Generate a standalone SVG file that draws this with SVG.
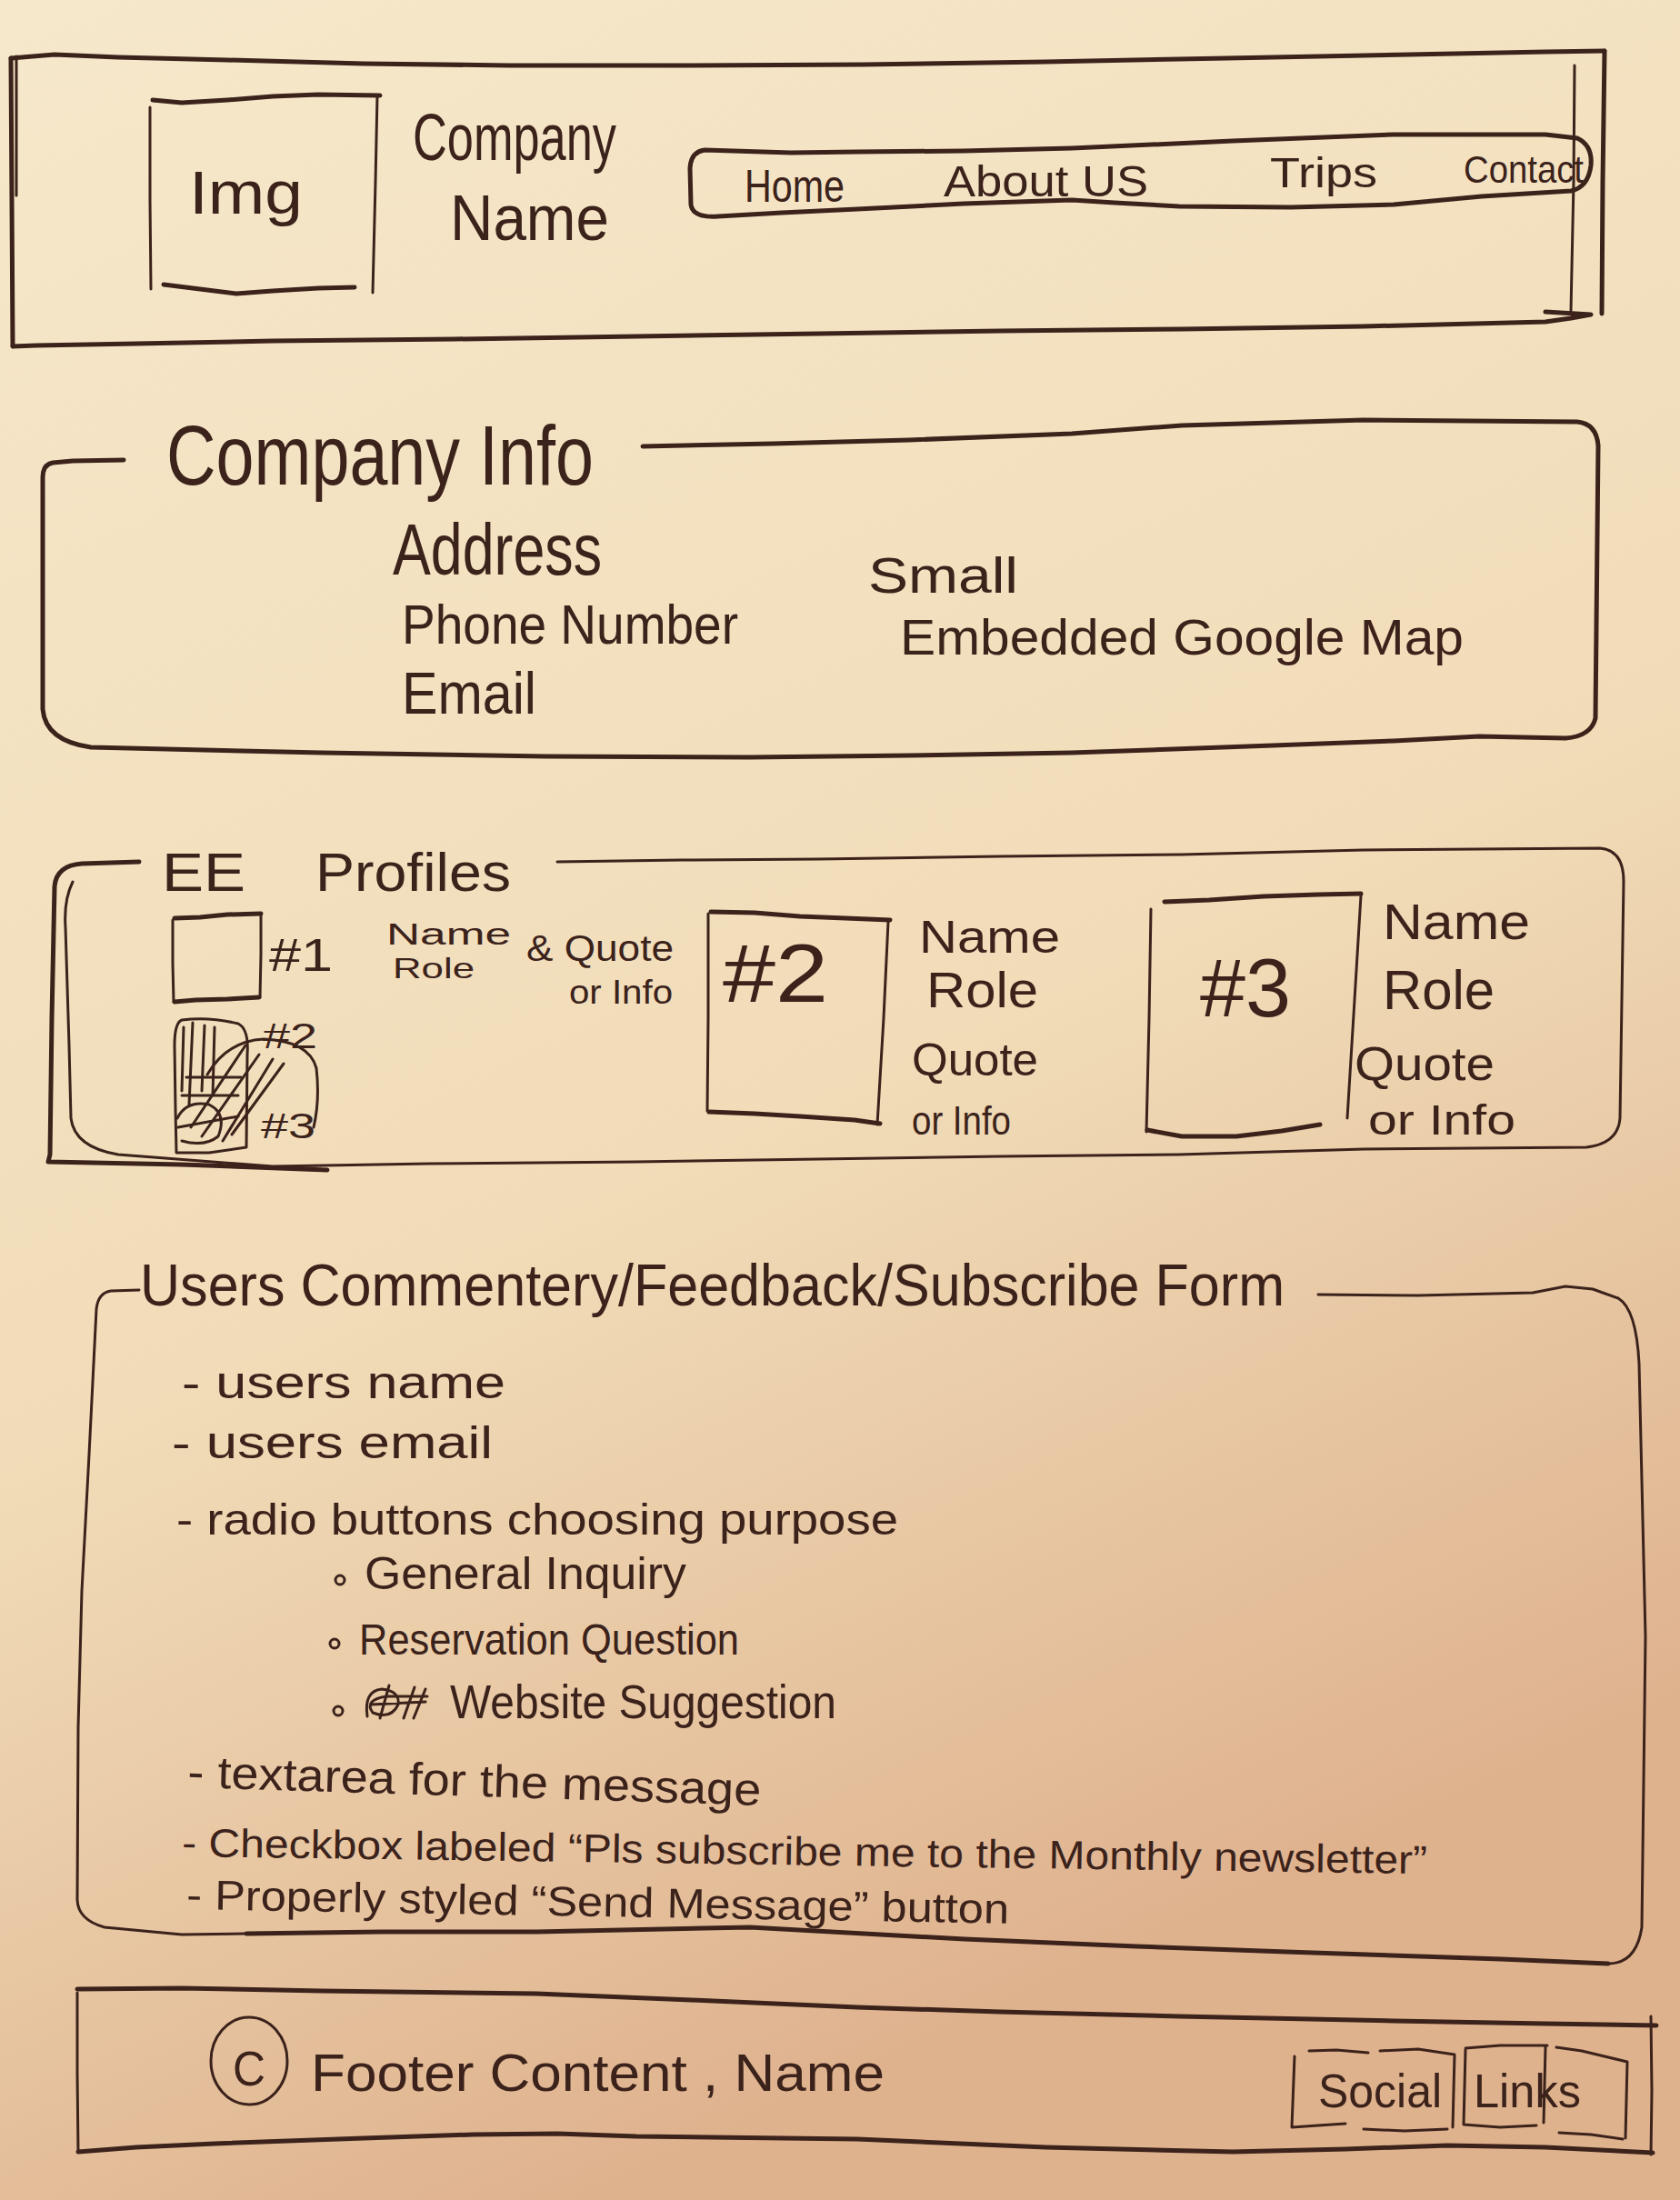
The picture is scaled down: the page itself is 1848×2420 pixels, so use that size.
<svg xmlns="http://www.w3.org/2000/svg" width="1848" height="2420" viewBox="0 0 1848 2420">
  <defs>
    <linearGradient id="paper" x1="0" y1="0" x2="0.35" y2="1">
      <stop offset="0" stop-color="#f6e8cb"/>
      <stop offset="0.6" stop-color="#f1dcb8"/>
      <stop offset="1" stop-color="#dfb28e"/>
    </linearGradient>
    <style>
      .ink { fill: none; stroke: #3b221b; stroke-width: 5; stroke-linecap: round; stroke-linejoin: round; }
      .thin { fill: none; stroke: #3b221b; stroke-width: 3; stroke-linecap: round; stroke-linejoin: round; }
      .t { font-family: "Liberation Sans Narrow", "Liberation Sans", Arial, sans-serif; fill: #3b221b; }
      .dot { fill: none; stroke: #3b221b; stroke-width: 3; }
    </style>
  </defs>

  <!-- paper -->
  <rect x="0" y="0" width="1848" height="2420" fill="url(#paper)"/>

  <!-- header bar -->
  <g id="header">
    <path class="ink" d="M12,64 L60,60 L130,63 L250,66 L400,70 L560,72 L760,72 L950,71 L1150,68 L1350,64 L1550,60 L1700,57 L1765,56"/>
    <path class="ink" d="M1765,56 L1763,200 L1762,345"/>
    <path class="thin" d="M1732,72 L1731,200 L1728,342"/>
    <path class="ink" d="M1700,343 L1750,346 L1728,350 L1700,354 L1500,359 L1300,362 L1100,364 L900,367 L700,370 L500,373 L300,375 L150,378 L40,380 L14,381"/>
    <path class="ink" d="M12,64 L13,220 L14,381"/>
    <path class="thin" d="M18,62 L18,215"/>
  </g>

  <g id="logo-img">
    <path class="ink" d="M168,110 L200,113 L250,110 L300,106 L350,104 L418,105"/>
    <path class="thin" d="M415,105 L413,200 L410,322"/>
    <path class="thin" d="M165,118 L165,220 L166,318"/>
    <path class="ink" d="M180,313 L220,318 L260,323 L300,320 L350,317 L390,316"/>
    <text class="t" x="208" y="235" font-size="66" textLength="125" lengthAdjust="spacingAndGlyphs">Img</text>
  </g>

  <g id="company-name">
    <text class="t" x="454" y="176" font-size="72" textLength="224" lengthAdjust="spacingAndGlyphs">Company</text>
    <text class="t" x="495" y="264" font-size="70" textLength="175" lengthAdjust="spacingAndGlyphs">Name</text>
  </g>

  <g id="nav">
    <path class="ink" d="M775,165 L870,168 L943,167 L1060,166 L1179,163 L1356,155 L1533,148 L1700,148 L1735,152 Q1752,160 1750,182 Q1747,206 1728,210 L1630,216 L1533,225 L1420,228 L1297,227 L1226,223 L1179,220 L1060,224 L943,230 L860,234 L790,238 Q762,240 760,225 L759,185 Q760,167 775,165 Z"/>
    <text class="t" x="819" y="222" font-size="50" textLength="110" lengthAdjust="spacingAndGlyphs">Home</text>
    <text class="t" x="1038" y="216" font-size="48" textLength="225" lengthAdjust="spacingAndGlyphs">About US</text>
    <text class="t" x="1397" y="206" font-size="46" textLength="118" lengthAdjust="spacingAndGlyphs">Trips</text>
    <text class="t" x="1610" y="201" font-size="42" textLength="132" lengthAdjust="spacingAndGlyphs">Contact</text>
  </g>

  <!-- company info panel -->
  <g id="company-info">
    <path class="ink" d="M136,506 L80,507 L58,509 Q47,511 47,525 L47,780 Q50,815 100,822 L354,828 L600,832 L825,833 L1000,831 L1179,828 L1400,820 L1533,815 L1627,810 L1722,812 Q1750,810 1755,790 L1758,490 Q1756,466 1735,464 L1500,462 L1300,468 L1179,477 L1000,484 L850,488 L707,491"/>
    <text class="t" x="183" y="533" font-size="92" textLength="470" lengthAdjust="spacingAndGlyphs">Company Info</text>
    <text class="t" x="432" y="632" font-size="80" textLength="230" lengthAdjust="spacingAndGlyphs">Address</text>
    <text class="t" x="442" y="708" font-size="62" textLength="370" lengthAdjust="spacingAndGlyphs">Phone Number</text>
    <text class="t" x="442" y="785" font-size="64" textLength="148" lengthAdjust="spacingAndGlyphs">Email</text>
    <text class="t" x="955" y="652" font-size="56" textLength="165" lengthAdjust="spacingAndGlyphs">Small</text>
    <text class="t" x="990" y="720" font-size="56" textLength="620" lengthAdjust="spacingAndGlyphs">Embedded Google Map</text>
  </g>

  <!-- employee profiles panel -->
  <g id="ee-profiles">
    <path class="ink" d="M153,948 L90,950 Q62,952 60,975 L57,1120 L55,1270 L53,1278 L200,1281 L360,1287"/>
    <path class="thin" d="M80,970 Q70,990 72,1020 L76,1150 L78,1230 Q82,1262 130,1270 L300,1283 L472,1280 L700,1278 L900,1275 L1100,1272 L1297,1270 L1500,1264 L1745,1262 Q1780,1258 1782,1230 L1786,970 Q1786,935 1760,933 L1500,935 L1300,940 L1100,942 L900,945 L750,946 L613,948"/>
    <text class="t" font-size="60"><tspan x="178" y="980" textLength="92" lengthAdjust="spacingAndGlyphs">EE</tspan> <tspan x="347" y="980" textLength="215" lengthAdjust="spacingAndGlyphs">Profiles</tspan></text>
  </g>

  <g id="profile-1">
    <path class="ink" d="M192,1010 L220,1009 L250,1006 L287,1005"/>
    <path class="thin" d="M287,1005 L287,1050 L286,1097"/>
    <path class="thin" d="M190,1012 L190,1060 L191,1102"/>
    <path class="ink" d="M192,1102 L215,1100 L250,1099 L285,1097"/>
    <text class="t" x="296" y="1068" font-size="50" textLength="70" lengthAdjust="spacingAndGlyphs">#1</text>
    <text class="t" x="425" y="1039" font-size="34" textLength="137" lengthAdjust="spacingAndGlyphs">Name</text>
    <text class="t" x="432" y="1076" font-size="32" textLength="90" lengthAdjust="spacingAndGlyphs">Role</text>
    <text class="t" x="579" y="1057" font-size="40" textLength="162" lengthAdjust="spacingAndGlyphs">&amp; Quote</text>
    <text class="t" x="626" y="1104" font-size="36" textLength="114" lengthAdjust="spacingAndGlyphs">or Info</text>
  </g>

  <!-- crossed-out thumbnails -->
  <g id="profile-scribble">
    <path class="thin" d="M200,1122 Q230,1118 262,1126 Q274,1132 272,1160 L271,1262 L230,1268 L194,1268 L193,1220 L192,1150 Q192,1125 200,1122 Z"/>
    <path class="thin" d="M202,1130 L200,1200 M212,1125 L208,1215 M225,1128 L222,1200 M236,1130 L234,1205 M205,1185 L265,1185 M200,1205 L262,1205 M196,1240 L262,1228"/>
    <path class="thin" d="M210,1240 L270,1150 M222,1250 L285,1160 M245,1255 L300,1165 M255,1248 L312,1170 M195,1230 Q205,1210 230,1215 Q250,1225 240,1250 Q225,1262 200,1255"/>
    <path class="thin" d="M228,1182 Q250,1145 290,1143 Q340,1145 348,1175 Q352,1210 345,1240"/>
    <text class="t" x="289" y="1153" font-size="38" textLength="60" lengthAdjust="spacingAndGlyphs">#2</text>
    <text class="t" x="287" y="1252" font-size="38" textLength="60" lengthAdjust="spacingAndGlyphs">#3</text>
  </g>

  <g id="profile-2">
    <path class="ink" d="M782,1003 L830,1004 L880,1008 L930,1010 L979,1012"/>
    <path class="thin" d="M779,1005 L779,1120 L778,1222"/>
    <path class="thin" d="M977,1014 L972,1120 L965,1237"/>
    <path class="ink" d="M780,1223 L830,1225 L880,1228 L940,1232 L968,1236"/>
    <text class="t" x="795" y="1102" font-size="90" textLength="116" lengthAdjust="spacingAndGlyphs">#2</text>
    <text class="t" x="1011" y="1048" font-size="50" textLength="155" lengthAdjust="spacingAndGlyphs">Name</text>
    <text class="t" x="1019" y="1108" font-size="56" textLength="123" lengthAdjust="spacingAndGlyphs">Role</text>
    <text class="t" x="1003" y="1183" font-size="50" textLength="139" lengthAdjust="spacingAndGlyphs">Quote</text>
    <text class="t" x="1003" y="1248" font-size="44" textLength="109" lengthAdjust="spacingAndGlyphs">or Info</text>
  </g>

  <g id="profile-3">
    <path class="ink" d="M1281,992 L1330,990 L1390,986 L1450,984 L1497,983"/>
    <path class="thin" d="M1266,1000 L1264,1120 L1261,1245"/>
    <path class="thin" d="M1497,985 L1490,1100 L1482,1230"/>
    <path class="ink" d="M1262,1243 L1300,1250 L1360,1250 L1410,1244 L1452,1237"/>
    <text class="t" x="1320" y="1118" font-size="90" textLength="100" lengthAdjust="spacingAndGlyphs">#3</text>
    <text class="t" x="1521" y="1033" font-size="56" textLength="162" lengthAdjust="spacingAndGlyphs">Name</text>
    <text class="t" x="1521" y="1110" font-size="62" textLength="123" lengthAdjust="spacingAndGlyphs">Role</text>
    <text class="t" x="1490" y="1188" font-size="52" textLength="154" lengthAdjust="spacingAndGlyphs">Quote</text>
    <text class="t" x="1505" y="1248" font-size="46" textLength="162" lengthAdjust="spacingAndGlyphs">or Info</text>
  </g>

  <!-- feedback form panel -->
  <g id="feedback-form">
    <path class="thin" d="M153,1419 L122,1420 Q108,1422 106,1440 L98,1600 L90,1750 L86,1900 L85,2090 Q86,2112 115,2120 L200,2128 L271,2127 L420,2125 L590,2125 L825,2120 L1061,2133 L1250,2141 L1415,2147 L1651,2155 L1769,2160 Q1800,2160 1806,2120 L1810,1800 L1803,1500 Q1800,1440 1780,1428 L1752,1418 L1722,1415 L1686,1422 L1560,1425 L1450,1424"/>
    <path class="ink" d="M271,2127 L420,2125 L590,2125 L825,2120 L1061,2133 L1250,2141 L1415,2147 L1651,2155 L1769,2160"/>
    <text class="t" x="154" y="1436" font-size="64" textLength="1259" lengthAdjust="spacingAndGlyphs">Users Commentery/Feedback/Subscribe Form</text>
    <text class="t" x="200" y="1538" font-size="50" textLength="356" lengthAdjust="spacingAndGlyphs">- users name</text>
    <text class="t" x="189" y="1604" font-size="50" textLength="353" lengthAdjust="spacingAndGlyphs">- users email</text>
    <text class="t" x="194" y="1688" font-size="48" textLength="794" lengthAdjust="spacingAndGlyphs">- radio buttons choosing purpose</text>
    <circle class="dot" cx="374" cy="1738" r="5"/>
    <text class="t" x="401" y="1748" font-size="50" textLength="354" lengthAdjust="spacingAndGlyphs">General Inquiry</text>
    <circle class="dot" cx="368" cy="1808" r="5"/>
    <text class="t" x="395" y="1820" font-size="48" textLength="418" lengthAdjust="spacingAndGlyphs">Reservation Question</text>
    <circle class="dot" cx="372" cy="1882" r="5"/>
    <path class="thin" d="M404,1888 Q400,1860 420,1858 Q440,1860 438,1875 Q430,1892 410,1884 Q400,1870 425,1866 L470,1866 M408,1875 L468,1872 M418,1890 L428,1854 M444,1890 L456,1856 M455,1890 L468,1858"/>
    <text class="t" x="495" y="1890" font-size="52" textLength="425" lengthAdjust="spacingAndGlyphs">Website Suggestion</text>
    <text class="t" x="206" y="1966" font-size="50" textLength="631" lengthAdjust="spacingAndGlyphs" transform="rotate(1.8 206 1966)">- textarea for the message</text>
    <text class="t" x="200" y="2042" font-size="44" textLength="1370" lengthAdjust="spacingAndGlyphs" transform="rotate(0.8 200 2042)">- Checkbox labeled “Pls subscribe me to the Monthly newsletter”</text>
    <text class="t" x="205" y="2100" font-size="46" textLength="905" lengthAdjust="spacingAndGlyphs" transform="rotate(1 205 2100)">- Properly styled “Send Message” button</text>
  </g>

  <!-- footer bar -->
  <g id="footer">
    <path class="ink" d="M85,2188 L200,2187 L354,2190 L590,2193 L760,2200 L943,2208 L1100,2213 L1297,2218 L1533,2223 L1700,2226 L1822,2228"/>
    <path class="thin" d="M85,2192 L85,2280 L86,2367"/>
    <path class="thin" d="M1816,2218 L1817,2300 L1816,2370"/>
    <path class="ink" d="M86,2367 L150,2362 L236,2358 L400,2352 L520,2348 L613,2347 L700,2350 L943,2353 L1150,2362 L1356,2367 L1480,2364 L1592,2360 L1700,2362 L1818,2368"/>
    <ellipse class="thin" cx="274" cy="2267" rx="42" ry="48"/>
    <text class="t" x="256" y="2294" font-size="54" textLength="36" lengthAdjust="spacingAndGlyphs">C</text>
    <text class="t" x="342" y="2300" font-size="58" textLength="631" lengthAdjust="spacingAndGlyphs">Footer Content , Name</text>
  </g>

  <g id="social-links">
    <path class="thin" d="M1440,2256 L1470,2255 L1505,2258 M1424,2262 L1421,2340 L1450,2338 L1480,2336"/>
    <path class="thin" d="M1518,2256 L1560,2254 L1600,2260 L1598,2340 M1500,2342 L1545,2344 L1592,2342"/>
    <path class="thin" d="M1612,2253 L1650,2250 L1702,2250 M1612,2255 L1610,2337 L1650,2340 L1690,2338 M1700,2252 L1698,2335"/>
    <path class="thin" d="M1712,2252 L1740,2256 L1790,2268 L1788,2352 M1715,2346 L1750,2348 L1785,2353"/>
    <text class="t" font-size="52"><tspan x="1450" y="2318" textLength="136" lengthAdjust="spacingAndGlyphs">Social</tspan> <tspan x="1621" y="2318" textLength="118" lengthAdjust="spacingAndGlyphs">Links</tspan></text>
  </g>
</svg>
